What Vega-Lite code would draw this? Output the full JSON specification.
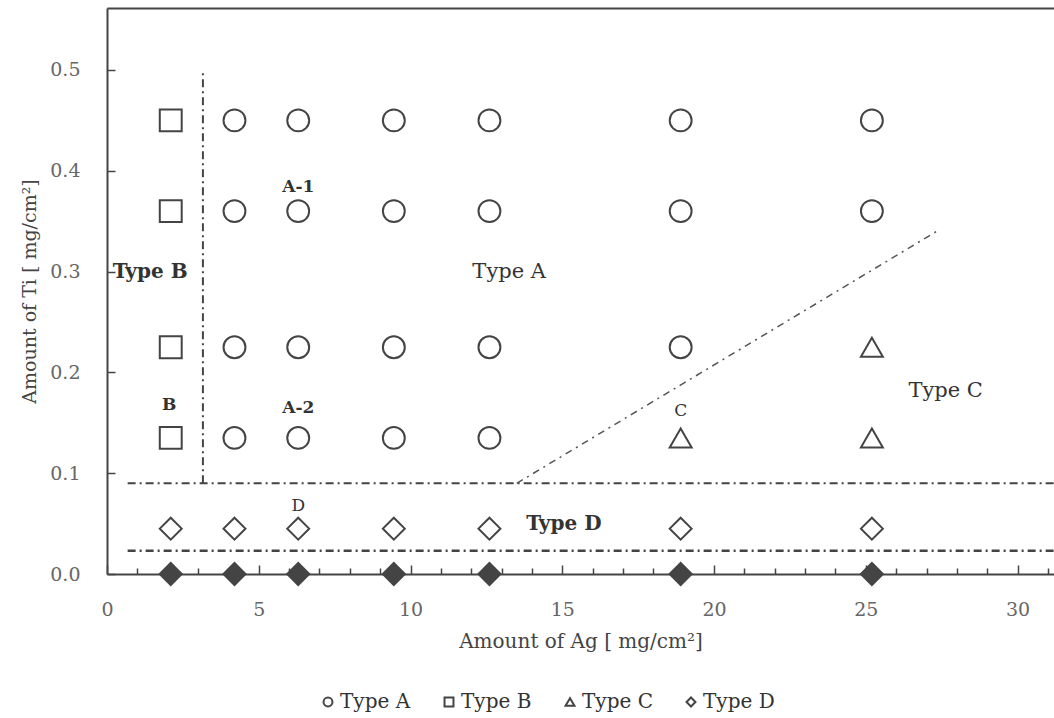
{
  "$schema": "https://vega.github.io/schema/vega-lite/v6.json",
  "width": 947,
  "height": 566,
  "autosize": {"type": "none"},
  "padding": {"left": 107, "top": 8, "right": 0, "bottom": 144},
  "background": "white",
  "config": {
    "font": "DejaVu Serif",
    "view": {"stroke": null},
    "axis": {"grid": false, "domainColor": "#444", "domainWidth": 2, "tickColor": "#444", "tickWidth": 1.5, "labelFont": "DejaVu Serif", "titleFont": "DejaVu Serif", "titleFontWeight": "normal", "labelFlush": false},
    "legend": {"orient": "none", "legendX": 211, "legendY": 684, "direction": "horizontal", "title": null, "symbolSize": 80, "symbolStrokeWidth": 2, "symbolStrokeColor": "#444", "symbolOpacity": 1, "labelFontSize": 20, "labelFont": "DejaVu Serif", "labelColor": "#333", "columnPadding": 28, "labelOffset": 2}
  },
  "datasets": {
    "points": [
      {"ag": 2.1, "ti": 0.45, "type": "Type B"},
      {"ag": 4.2, "ti": 0.45, "type": "Type A"},
      {"ag": 6.3, "ti": 0.45, "type": "Type A"},
      {"ag": 9.45, "ti": 0.45, "type": "Type A"},
      {"ag": 12.6, "ti": 0.45, "type": "Type A"},
      {"ag": 18.9, "ti": 0.45, "type": "Type A"},
      {"ag": 25.2, "ti": 0.45, "type": "Type A"},
      {"ag": 2.1, "ti": 0.36, "type": "Type B"},
      {"ag": 4.2, "ti": 0.36, "type": "Type A"},
      {"ag": 6.3, "ti": 0.36, "type": "Type A"},
      {"ag": 9.45, "ti": 0.36, "type": "Type A"},
      {"ag": 12.6, "ti": 0.36, "type": "Type A"},
      {"ag": 18.9, "ti": 0.36, "type": "Type A"},
      {"ag": 25.2, "ti": 0.36, "type": "Type A"},
      {"ag": 2.1, "ti": 0.225, "type": "Type B"},
      {"ag": 4.2, "ti": 0.225, "type": "Type A"},
      {"ag": 6.3, "ti": 0.225, "type": "Type A"},
      {"ag": 9.45, "ti": 0.225, "type": "Type A"},
      {"ag": 12.6, "ti": 0.225, "type": "Type A"},
      {"ag": 18.9, "ti": 0.225, "type": "Type A"},
      {"ag": 25.2, "ti": 0.225, "type": "Type C"},
      {"ag": 2.1, "ti": 0.135, "type": "Type B"},
      {"ag": 4.2, "ti": 0.135, "type": "Type A"},
      {"ag": 6.3, "ti": 0.135, "type": "Type A"},
      {"ag": 9.45, "ti": 0.135, "type": "Type A"},
      {"ag": 12.6, "ti": 0.135, "type": "Type A"},
      {"ag": 18.9, "ti": 0.135, "type": "Type C"},
      {"ag": 25.2, "ti": 0.135, "type": "Type C"},
      {"ag": 2.1, "ti": 0.045, "type": "Type D"},
      {"ag": 4.2, "ti": 0.045, "type": "Type D"},
      {"ag": 6.3, "ti": 0.045, "type": "Type D"},
      {"ag": 9.45, "ti": 0.045, "type": "Type D"},
      {"ag": 12.6, "ti": 0.045, "type": "Type D"},
      {"ag": 18.9, "ti": 0.045, "type": "Type D"},
      {"ag": 25.2, "ti": 0.045, "type": "Type D"},
      {"ag": 2.1, "ti": 0, "type": "No Ti"},
      {"ag": 4.2, "ti": 0, "type": "No Ti"},
      {"ag": 6.3, "ti": 0, "type": "No Ti"},
      {"ag": 9.45, "ti": 0, "type": "No Ti"},
      {"ag": 12.6, "ti": 0, "type": "No Ti"},
      {"ag": 18.9, "ti": 0, "type": "No Ti"},
      {"ag": 25.2, "ti": 0, "type": "No Ti"}
    ],
    "lines": [
      {"line": "h1", "ag": 0.68, "ti": 0.09},
      {"line": "h1", "ag": 31.2, "ti": 0.09},
      {"line": "v1", "ag": 3.16, "ti": 0.09},
      {"line": "v1", "ag": 3.16, "ti": 0.5},
      {"line": "h2", "ag": 0.68, "ti": 0.023},
      {"line": "h2", "ag": 31.2, "ti": 0.023},
      {"line": "diag", "ag": 13.5, "ti": 0.09},
      {"line": "diag", "ag": 27.45, "ti": 0.342}
    ],
    "labels": [
      {"label": "Type B", "ag": 1.42, "ti": 0.3},
      {"label": "Type A", "ag": 13.25, "ti": 0.3},
      {"label": "Type C", "ag": 27.63, "ti": 0.182},
      {"label": "Type D", "ag": 15.05, "ti": 0.05},
      {"label": "A-1", "ag": 6.3, "ti": 0.384},
      {"label": "A-2", "ag": 6.3, "ti": 0.165},
      {"label": "B", "ag": 2.05, "ti": 0.168},
      {"label": "C", "ag": 18.9, "ti": 0.162},
      {"label": "D", "ag": 6.3, "ti": 0.067}
    ]
  },
  "encoding": {
    "y": {
      "field": "ti",
      "type": "quantitative",
      "scale": {"domain": [0, 0.5615], "nice": false, "zero": false},
      "axis": {
        "values": [0, 0.1, 0.2, 0.3, 0.4, 0.5],
        "format": ".1f",
        "tickSize": -8,
        "labelPadding": 35,
        "labelFontSize": 19,
        "labelFont": "DejaVu Serif",
        "labelColor": "#666",
        "title": "Amount of Ti [ mg/cm²]",
        "titleFont": "DejaVu Serif",
        "titleFontWeight": "normal",
        "titleFontSize": 19,
        "titleColor": "#444",
        "titlePadding": 10
      }
    }
  },
  "layer": [
    {
      "data": {"name": "lines"},
      "transform": [{"filter": {"field": "line", "oneOf": ["h1", "v1"]}}],
      "mark": {"type": "line", "color": "#444", "strokeWidth": 2, "strokeDash": [8, 4, 2, 4]},
      "encoding": {
        "x": {"field": "ag", "type": "quantitative", "scale": {"domain": [0, 31.2], "nice": false, "zero": false}, "axis": null},
        "detail": {"field": "line"}
      }
    },
    {
      "data": {"name": "lines"},
      "transform": [{"filter": {"field": "line", "equal": "h2"}}],
      "mark": {"type": "line", "color": "#444", "strokeWidth": 2.5, "strokeDash": [8, 4, 2, 4]},
      "encoding": {
        "x": {"field": "ag", "type": "quantitative", "scale": {"domain": [0, 31.2], "nice": false, "zero": false},
          "axis": {"orient": "bottom", "values": [1, 2, 3, 4, 6, 7, 8, 9, 11, 12, 13, 14, 16, 17, 18, 19, 21, 22, 23, 24, 26, 27, 28, 29, 31], "tickSize": -6, "labels": false, "domain": false, "title": null}}
      }
    },
    {
      "data": {"name": "lines"},
      "transform": [{"filter": {"field": "line", "equal": "diag"}}],
      "mark": {"type": "line", "color": "#555", "strokeWidth": 1.5, "strokeDash": [7, 5, 2, 5]},
      "encoding": {
        "x": {"field": "ag", "type": "quantitative", "scale": {"domain": [0, 31.2], "nice": false, "zero": false},
          "axis": {"orient": "top", "ticks": false, "labels": false, "domain": true, "title": null}}
      }
    },
    {
      "data": {"name": "points"},
      "transform": [{"filter": {"field": "type", "oneOf": ["Type A", "Type B", "Type C", "Type D"]}}],
      "mark": {"type": "point", "filled": false, "strokeWidth": 2, "color": "#444", "opacity": 1, "size": 480},
      "encoding": {
        "x": {"field": "ag", "type": "quantitative", "scale": {"domain": [0, 31.2], "nice": false, "zero": false},
          "axis": {"orient": "bottom", "values": [0, 5, 10, 15, 20, 25, 30], "tickSize": -9, "labelPadding": 35, "labelFontSize": 19, "labelColor": "#666", "title": "Amount of Ag [ mg/cm²]", "titleFontSize": 20, "titleColor": "#444", "titlePadding": 12}},
        "shape": {"field": "type", "type": "nominal", "scale": {"domain": ["Type A", "Type B", "Type C", "Type D"], "range": ["circle", "square", "triangle-up", "diamond"]}}
      }
    },
    {
      "data": {"name": "points"},
      "transform": [{"filter": {"field": "type", "equal": "No Ti"}}],
      "mark": {"type": "point", "filled": true, "shape": "diamond", "color": "#444", "opacity": 1, "size": 620},
      "encoding": {
        "x": {"field": "ag", "type": "quantitative", "scale": {"domain": [0, 31.2], "nice": false, "zero": false}, "axis": null}
      }
    },
    {
      "data": {"name": "labels"},
      "transform": [{"filter": {"field": "label", "oneOf": ["Type B", "Type D"]}}],
      "mark": {"type": "text", "fontSize": 20, "fontWeight": "bold", "color": "#333"},
      "encoding": {
        "x": {"field": "ag", "type": "quantitative", "scale": {"domain": [0, 31.2], "nice": false, "zero": false}, "axis": null},
        "text": {"field": "label"}
      }
    },
    {
      "data": {"name": "labels"},
      "transform": [{"filter": {"field": "label", "oneOf": ["Type A", "Type C"]}}],
      "mark": {"type": "text", "fontSize": 21, "color": "#333"},
      "encoding": {
        "x": {"field": "ag", "type": "quantitative", "scale": {"domain": [0, 31.2], "nice": false, "zero": false}, "axis": null},
        "text": {"field": "label"}
      }
    },
    {
      "data": {"name": "labels"},
      "transform": [{"filter": {"field": "label", "oneOf": ["A-1", "A-2", "B"]}}],
      "mark": {"type": "text", "fontSize": 17, "fontWeight": "bold", "color": "#333"},
      "encoding": {
        "x": {"field": "ag", "type": "quantitative", "scale": {"domain": [0, 31.2], "nice": false, "zero": false}, "axis": null},
        "text": {"field": "label"}
      }
    },
    {
      "data": {"name": "labels"},
      "transform": [{"filter": {"field": "label", "oneOf": ["C", "D"]}}],
      "mark": {"type": "text", "fontSize": 17, "color": "#333"},
      "encoding": {
        "x": {"field": "ag", "type": "quantitative", "scale": {"domain": [0, 31.2], "nice": false, "zero": false}, "axis": null},
        "text": {"field": "label"}
      }
    }
  ],
  "resolve": {"axis": {"x": "independent"}}
}
